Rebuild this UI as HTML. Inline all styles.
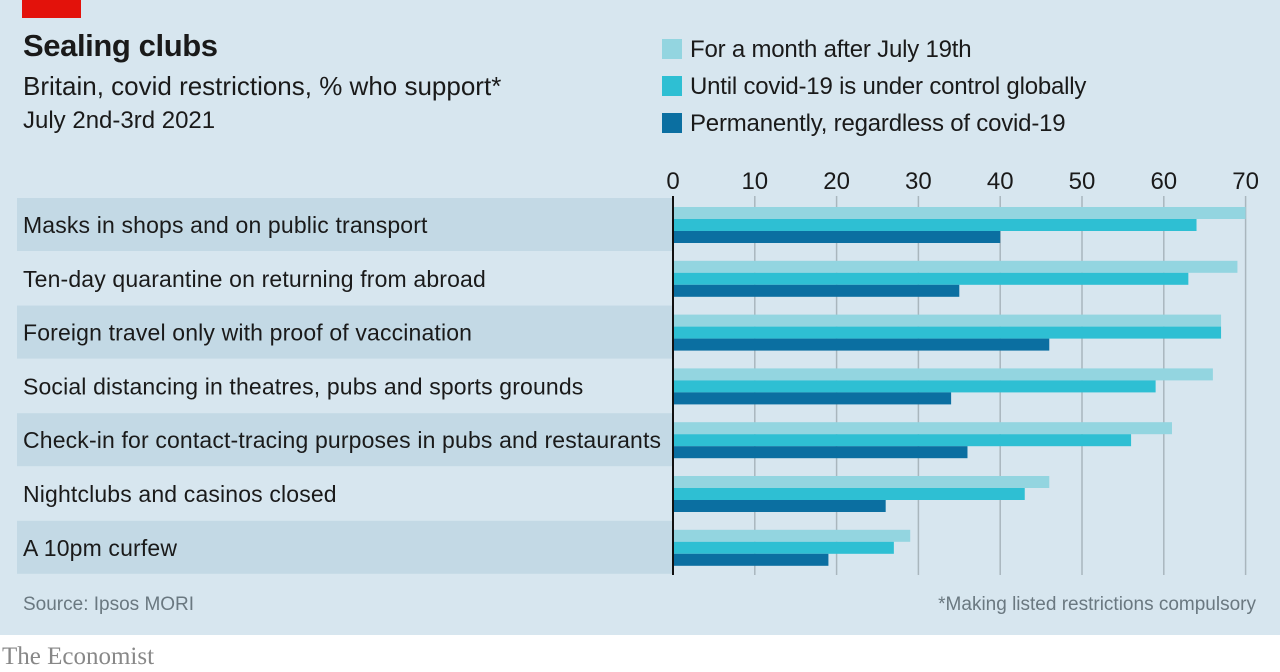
<!DOCTYPE html>
<html><head><meta charset="utf-8"><style>
body{margin:0;width:1280px;height:672px;background:#fff;font-family:"Liberation Sans",sans-serif;overflow:hidden;position:relative}
#bg{position:absolute;left:0;top:0;width:1280px;height:635px;background:#d7e6ef}
.t{position:absolute;white-space:nowrap;color:#1a1a1a}
</style></head><body>
<div id="bg"></div>
<div style="position:absolute;left:22px;top:0;width:59px;height:18px;background:#e3120b"></div>
<div class="t" style="left:23px;top:28px;font-size:31px;font-weight:bold;letter-spacing:-0.4px">Sealing clubs</div>
<div class="t" style="left:23px;top:71px;font-size:26px">Britain, covid restrictions, % who support*</div>
<div class="t" style="left:23px;top:107px;font-size:24px">July 2nd-3rd 2021</div>
<div class="t" style="left:23px;top:594px;font-size:19px;color:#6a7880">Source: Ipsos MORI</div>
<div class="t" style="right:24px;top:594px;font-size:19px;color:#6a7880">*Making listed restrictions compulsory</div>
<div class="t" style="left:2px;top:643px;font-size:25px;font-family:'Liberation Serif',serif;color:#888">The Economist</div>
<svg id="c" width="1280" height="672" style="position:absolute;left:0;top:0"></svg>
<script>
const categories=["Masks in shops and on public transport","Ten-day quarantine on returning from abroad","Foreign travel only with proof of vaccination","Social distancing in theatres, pubs and sports grounds","Check-in for contact-tracing purposes in pubs and restaurants","Nightclubs and casinos closed","A 10pm curfew"];
const seriesNames=["For a month after July 19th","Until covid-19 is under control globally","Permanently, regardless of covid-19"];
const monthAfter=[70,69,67,66,61,46,29];
const untilControl=[64,63,67,59,56,43,27];
const permanently=[40,35,46,34,36,26,19];
const ticks=[0,10,20,30,40,50,60,70];
const colors=["#93d5e0","#2ebfd3","#0b6fa1"];
const series=[monthAfter,untilControl,permanently];
const svg=document.getElementById('c');const NS="http://www.w3.org/2000/svg";
function x(v){return 673+v*8.18;}
function rowY(i){return 198+i*53.8;}
function mk(t,a){const e=document.createElementNS(NS,t);for(const k in a)e.setAttribute(k,a[k]);svg.appendChild(e);return e;}
categories.forEach((c,i)=>{if(i%2==0){const r=mk('rect',{x:17,y:rowY(i),width:656,height:53,fill:'#c3d9e5'});

}
const t=mk('text',{x:23,y:rowY(i)+35,'font-size':23,fill:'#1a1a1a','font-family':'Liberation Sans, sans-serif','letter-spacing':'0.15'});t.textContent=c;

});
ticks.forEach(v=>{if(v>0){const l=mk('line',{x1:x(v),x2:x(v),y1:196,y2:575,stroke:'#a9b6bd','stroke-width':1.5});

}
const t=mk('text',{x:x(v),y:189,'font-size':24,'text-anchor':'middle',fill:'#1a1a1a','font-family':'Liberation Sans, sans-serif'});t.textContent=v;

});
series.forEach((s,k)=>s.forEach((v,i)=>{const r=mk('rect',{x:x(0),y:rowY(i)+9+k*12,width:x(v)-x(0),height:12,fill:colors[k]});

}));
const z=mk('line',{x1:673,x2:673,y1:196,y2:575,stroke:'#111','stroke-width':2});


seriesNames.forEach((n,k)=>{const r=mk('rect',{x:662,y:39+k*37,width:20,height:20,fill:colors[k]});


const t=mk('text',{x:690,y:57+k*37,'font-size':24,fill:'#1a1a1a','font-family':'Liberation Sans, sans-serif','letter-spacing':'-0.2'});t.textContent=n;

});
</script>
</body></html>
